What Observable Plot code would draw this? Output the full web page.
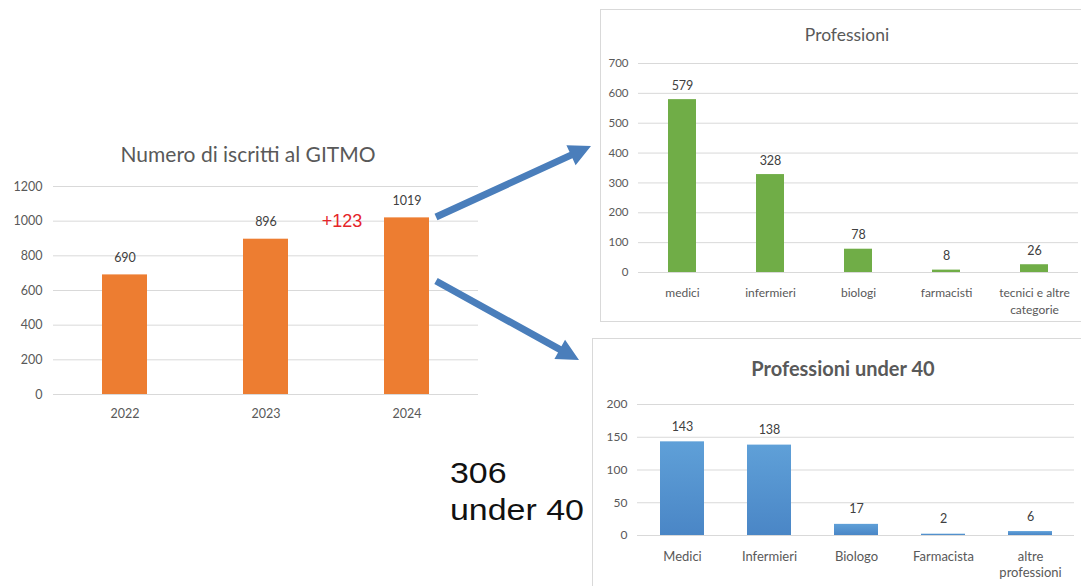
<!DOCTYPE html>
<html><head><meta charset="utf-8">
<script src="https://cdn.jsdelivr.net/npm/d3@7"></script>
<script src="https://cdn.jsdelivr.net/npm/@observablehq/plot@0.6"></script>
<style>
html,body{margin:0;padding:0;background:#fff;}
body{width:1081px;height:586px;overflow:hidden;position:relative;font-family:Lato,"Open Sans",sans-serif;}
.abs{position:absolute;}
.box{position:absolute;border:1px solid #d9d9d9;box-sizing:border-box;background:#fff;}
.title{position:absolute;color:#595959;white-space:nowrap;transform:translate(-50%,-50%);}
</style></head><body>
<div id="c1" class="abs" style="left:0;top:170px"></div>
<div class="title" style="left:248px;top:153px;font-size:21px;">Numero di iscritti al GITMO</div>
<div id="box2" class="box" style="left:600px;top:9px;width:500px;height:313px;">
  <div class="title" style="left:246px;top:24px;font-size:17.5px;">Professioni</div>
  <div id="c2" class="abs" style="left:-1px;top:0px"></div>
</div>
<div id="box3" class="box" style="left:592px;top:338px;width:500px;height:260px;">
  <div class="title" style="left:250px;top:29px;font-size:20px;font-weight:bold;">Professioni under 40</div>
  <div id="c3" class="abs" style="left:-1px;top:-1px"></div>
</div>
<div id="under" class="abs" style="left:450px;top:455px;font-family:'Liberation Sans',Arial,sans-serif;font-size:29px;line-height:37px;color:#111;transform:scaleX(1.17);transform-origin:0 0;white-space:nowrap;"></div>
<svg id="arrows" class="abs" style="left:0;top:0;pointer-events:none" width="1081" height="586"></svg>
<script>
// ---- data ----
const years = ["2022", "2023", "2024"];
const iscritti = [690, 896, 1019];
const ticks1 = [0, 200, 400, 600, 800, 1000, 1200];

const professioni = ["medici", "infermieri", "biologi", "farmacisti", "tecnici e altre\ncategorie"];
const professioniVal = [579, 328, 78, 8, 26];
const ticks2 = [0, 100, 200, 300, 400, 500, 600, 700];

const under40 = ["Medici", "Infermieri", "Biologo", "Farmacista", "altre\nprofessioni"];
const under40Val = [143, 138, 17, 2, 6];
const ticks3 = [0, 50, 100, 150, 200];
const under40Total = 306;

const data1 = years.map((k, i) => ({k, v: iscritti[i]}));
const data2 = professioni.map((k, i) => ({k, v: professioniVal[i]}));
const data3 = under40.map((k, i) => ({k, v: under40Val[i]}));
const delta = iscritti[2] - iscritti[1];

const font = "Lato, 'Open Sans', sans-serif";
const fmt = d => String(d);

// ---- chart 1 ----
const p1 = Plot.plot({
  width: 490, height: 254,
  marginTop: 16, marginBottom: 30, marginLeft: 53, marginRight: 12,
  style: {fontFamily: font, color: "#595959", background: "transparent"},
  x: {domain: years, paddingInner: 0.68, paddingOuter: 0.34, axis: null},
  y: {domain: [0, 1200], axis: null},
  marks: [
    Plot.gridY(ticks1, {stroke: "#d9d9d9", strokeOpacity: 1}),
    Plot.axisY(ticks1, {tickSize: 0, tickPadding: 11, fontSize: 12.5, label: null, tickFormat: fmt}),
    Plot.barY(data1, {x: "k", y: "v", fill: "#ED7D31"}),
    Plot.text(data1, {x: "k", y: "v", text: d => String(d.v), dy: -17, fontSize: 12.5, fill: "#404040"}),
    Plot.text(data1, {x: "k", text: "k", frameAnchor: "bottom", lineAnchor: "top", dy: 15, fontSize: 12.5, fill: "#595959"}),
    Plot.text([{k: "2024", v: 1000}], {x: "k", y: "v", text: () => "+" + delta, dx: -65, fontSize: 18, fill: "#E5252A", fontFamily: "'Liberation Sans', Arial, sans-serif"})
  ]
});
document.getElementById("c1").append(p1);

// ---- chart 2 ----
const p2 = Plot.plot({
  width: 481, height: 310,
  marginTop: 53, marginBottom: 48, marginLeft: 38, marginRight: 3,
  style: {fontFamily: font, color: "#595959", background: "transparent"},
  x: {domain: professioni, paddingInner: 0.68, paddingOuter: 0.34, axis: null},
  y: {domain: [0, 700], axis: null},
  marks: [
    Plot.gridY(ticks2, {stroke: "#d9d9d9", strokeOpacity: 1}),
    Plot.axisY(ticks2, {tickSize: 0, tickPadding: 10, fontSize: 11.5, label: null, tickFormat: fmt}),
    Plot.barY(data2, {x: "k", y: "v", fill: "#70AD47"}),
    Plot.text(data2, {x: "k", y: "v", text: d => String(d.v), dy: -14, fontSize: 12.5, fill: "#404040"}),
    Plot.text(data2, {x: "k", text: "k", frameAnchor: "bottom", lineAnchor: "top", dy: 12.5, lineHeight: 1.4, fontSize: 12, fill: "#595959"})
  ]
});
document.getElementById("c2").append(p2);

// ---- chart 3 ----
const gradDefs = () => {
  const defs = d3.create("svg:defs");
  const g = defs.append("linearGradient").attr("id", "blueGrad")
    .attr("x1", 0).attr("y1", 0).attr("x2", 0).attr("y2", 1);
  g.append("stop").attr("offset", "0%").attr("stop-color", "#5FA0D8");
  g.append("stop").attr("offset", "100%").attr("stop-color", "#4A86C6");
  return defs.node();
};
const p3 = Plot.plot({
  width: 489, height: 248,
  marginTop: 66, marginBottom: 51, marginLeft: 45, marginRight: 7,
  style: {fontFamily: font, color: "#595959", background: "transparent"},
  x: {domain: under40, paddingInner: 0.5, paddingOuter: 0.25, axis: null},
  y: {domain: [0, 200], axis: null},
  marks: [
    gradDefs,
    Plot.gridY(ticks3, {stroke: "#d9d9d9", strokeOpacity: 1}),
    Plot.axisY(ticks3, {tickSize: 0, tickPadding: 10, fontSize: 12, label: null, tickFormat: fmt}),
    Plot.barY(data3, {x: "k", y: "v", fill: "url(#blueGrad)"}),
    Plot.text(data3, {x: "k", y: "v", text: d => String(d.v), dy: -15, fontSize: 12.5, fill: "#404040"}),
    Plot.text(data3, {x: "k", text: "k", frameAnchor: "bottom", lineAnchor: "top", dy: 13, lineHeight: 1.3, fontSize: 13, fill: "#595959"})
  ]
});
document.getElementById("c3").append(p3);

// ---- annotation ----
document.getElementById("under").innerHTML = under40Total + "<br>under 40";

// ---- arrows (decoration) ----
function arrowPoly(x1, y1, x2, y2, w, hl, hw) {
  const dx = x2 - x1, dy = y2 - y1, L = Math.hypot(dx, dy);
  const ux = dx / L, uy = dy / L, nx = -uy, ny = ux;
  const bx = x2 - ux * hl, by = y2 - uy * hl;
  const pts = [
    [x1 + nx * w / 2, y1 + ny * w / 2],
    [bx + nx * w / 2, by + ny * w / 2],
    [bx + nx * hw, by + ny * hw],
    [x2, y2],
    [bx - nx * hw, by - ny * hw],
    [bx - nx * w / 2, by - ny * w / 2],
    [x1 - nx * w / 2, y1 - ny * w / 2]
  ];
  return pts.map(p => p.join(",")).join(" ");
}
const arrows = d3.select("#arrows");
[[436, 217, 591, 146], [436, 281, 579, 360]].forEach(a => {
  arrows.append("polygon").attr("points", arrowPoly(...a, 7, 22, 11)).attr("fill", "#4A7EBB");
});
</script>
</body></html>
